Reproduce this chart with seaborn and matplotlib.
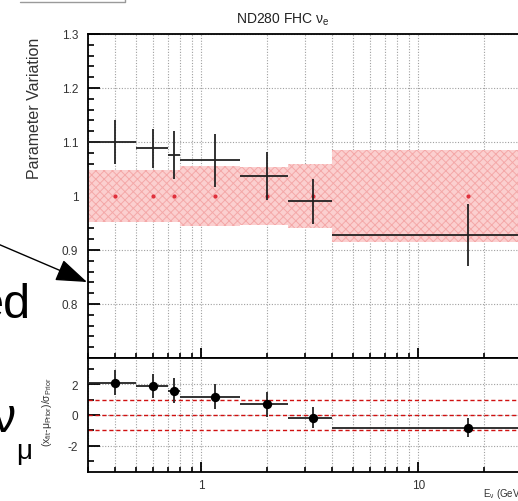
import numpy as np
import pandas as pd
import seaborn as sns
import matplotlib.pyplot as plt
from matplotlib.ticker import FixedLocator, FixedFormatter, NullFormatter, LogLocator
from matplotlib.lines import Line2D

# Bin edges in neutrino energy (GeV)
bin_edges = [0.3, 0.5, 0.7, 0.8, 1.5, 2.5, 4.0, 30.0]

# Post-fit parameter values and errors
fit_val = [1.100, 1.088, 1.076, 1.066, 1.037, 0.990, 0.928]
fit_err = [0.041, 0.036, 0.045, 0.049, 0.045, 0.042, 0.057]

# Prior errors (pink band around 1)
prior_err = [0.049, 0.049, 0.049, 0.056, 0.054, 0.060, 0.086]

# Pulls (x_fit - mu_prior) / sigma_prior
pull_val = [2.10, 1.88, 1.57, 1.20, 0.70, -0.18, -0.83]
pull_err = [0.80, 0.75, 0.80, 0.82, 0.80, 0.68, 0.62]

sns.set_theme(style='white')
plt.rcParams['font.family'] = ['Liberation Sans', 'DejaVu Sans']
plt.rcParams['mathtext.fontset'] = 'custom'
plt.rcParams['mathtext.rm'] = 'Liberation Sans'
plt.rcParams['mathtext.it'] = 'Liberation Sans'
plt.rcParams['hatch.linewidth'] = 0.7

edges = np.array(bin_edges)
lo, hi = edges[:-1], edges[1:]
centre = (lo + hi) / 2
df = pd.DataFrame({'E': centre, 'lo': lo, 'hi': hi, 'fit': fit_val, 'err': fit_err,
                   'prior': prior_err, 'pull': pull_val, 'perr': pull_err})
df['one'] = 1.0

W, H = 518, 502
fig = plt.figure(figsize=(W / 100, H / 100), dpi=100)
left, width = 88 / W, 434 / W
ax = fig.add_axes([left, 1 - 359 / H, width, (359 - 35) / H])
ax2 = fig.add_axes([left, 1 - 473 / H, width, (473 - 359) / H], sharex=ax)

grid_kw = dict(color='#a0a0a0', ls=(0, (1, 1.5)), lw=0.8)
ink = '#222222'

for a in (ax, ax2):
    a.set_xscale('log')
    a.set_xlim(0.3, 30)
    a.xaxis.set_major_locator(FixedLocator([1, 10]))
    a.xaxis.set_minor_locator(LogLocator(base=10, subs=np.arange(2, 10)))
    a.xaxis.set_minor_formatter(NullFormatter())
    a.grid(which='both', axis='x', **grid_kw)
    a.grid(which='major', axis='y', **grid_kw)
    a.set_axisbelow(True)
    a.tick_params(which='both', direction='in', left=True, bottom=True, top=False,
                  right=False, labelsize=8.5, labelcolor='#333333', color='black')
    a.tick_params(which='major', length=8.5, width=1.3)
    a.tick_params(which='minor', length=4.5, width=1.2)
    a.tick_params(axis='y', which='major', pad=7)
    a.tick_params(axis='x', which='major', length=7)
    a.tick_params(axis='x', which='minor', length=3.5)
    for s in a.spines.values():
        s.set_color('black')
        s.set_linewidth(1.3)

# ---- top panel ----
ax.set_ylim(0.7, 1.3)
ax.yaxis.set_major_locator(FixedLocator([0.8, 0.9, 1.0, 1.1, 1.2, 1.3]))
ax.yaxis.set_major_formatter(FixedFormatter(['0.8', '0.9', '1', '1.1', '1.2', '1.3']))
ax.yaxis.set_minor_locator(FixedLocator(np.arange(0.70, 1.301, 0.02)))
ax.tick_params(axis='x', labelbottom=False)

ax.stairs(1 + np.array(prior_err), edges, baseline=1 - np.array(prior_err), fill=True,
          facecolor='#fbcfcf', edgecolor='#f4a8a8', hatch='xxxx', linewidth=0, zorder=1)
sns.scatterplot(data=df, x='E', y='one', color='#e0303c', s=9, linewidth=0, ax=ax, zorder=2)
ax.errorbar(df['E'], df['fit'], yerr=df['err'], xerr=[df['E'] - df['lo'], df['hi'] - df['E']],
            fmt='none', ecolor=ink, elinewidth=1.3, capsize=0, zorder=3)
ax.set_xlabel('')
ax.set_ylabel('')

# ---- pull panel ----
ax2.set_ylim(-3.7, 3.7)
ax2.yaxis.set_major_locator(FixedLocator([-2, 0, 2]))
ax2.yaxis.set_major_formatter(FixedFormatter(['-2', '0', '2']))
ax2.yaxis.set_minor_locator(FixedLocator([-3, -1, 1, 3]))
ax2.xaxis.set_major_formatter(FixedFormatter(['1', '10']))
ax2.tick_params(axis='x', pad=5)
for yv in (-1, 0, 1):
    ax2.axhline(yv, color='#d01010', ls=(0, (3, 2)), lw=1.0, zorder=2)
ax2.errorbar(df['E'], df['pull'], yerr=df['perr'], xerr=[df['E'] - df['lo'], df['hi'] - df['E']],
             fmt='none', ecolor=ink, elinewidth=1.3, capsize=0, zorder=3)
sns.scatterplot(data=df, x='E', y='pull', color='black', s=45, linewidth=0, ax=ax2, zorder=4)
ax2.set_xlabel('')
ax2.set_ylabel('')

# ---- labels ----
fig.text(283 / W, 1 - 20 / H, r'ND280 FHC $\nu_{\mathrm{e}}$', ha='center', va='center',
         fontsize=10, color='#222222')
fig.text(35 / W, 1 - 108 / H, 'Parameter Variation', rotation=90, ha='center', va='center',
         fontsize=11.5, color='#333333')
fig.text(47 / W, 1 - 412 / H, r'$(x_{\mathrm{fit}}$-$\mu_{\mathrm{Prior}})/\sigma_{\mathrm{Prior}}$',
         rotation=90, ha='center', va='center', fontsize=7.5, color='#333333')
fig.text(523 / W, 1 - 494 / H, r'E$_{\nu}$ (GeV)', ha='right', va='center', fontsize=7,
         color='#333333')

# slide decorations around the plot (cut off at the left edge, as in the screenshot)
fig.text(31 / W, 1 - 305 / H, 'ed', ha='right', va='center', fontsize=35, color='black')
fig.text(15 / W, 1 - 420 / H, 'ν', ha='right', va='center', fontsize=35, color='black')
fig.text(16 / W, 1 - 452 / H, 'μ', ha='left', va='center', fontsize=20, color='black')
plt.annotate('', xy=(87, H - 283), xytext=(-2, H - 245), xycoords='figure pixels',
             textcoords='figure pixels',
             arrowprops=dict(arrowstyle='-|>,head_length=1.4,head_width=0.5', color='black',
                             lw=1.0, mutation_scale=14, shrinkA=0, shrinkB=0))
fig.add_artist(Line2D([20 / W, 125 / W, 125 / W], [1 - 2.5 / H, 1 - 2.5 / H, 1.0],
                      color='#9a9a9a', lw=1.0))

fig.savefig('out.png', dpi=100)
